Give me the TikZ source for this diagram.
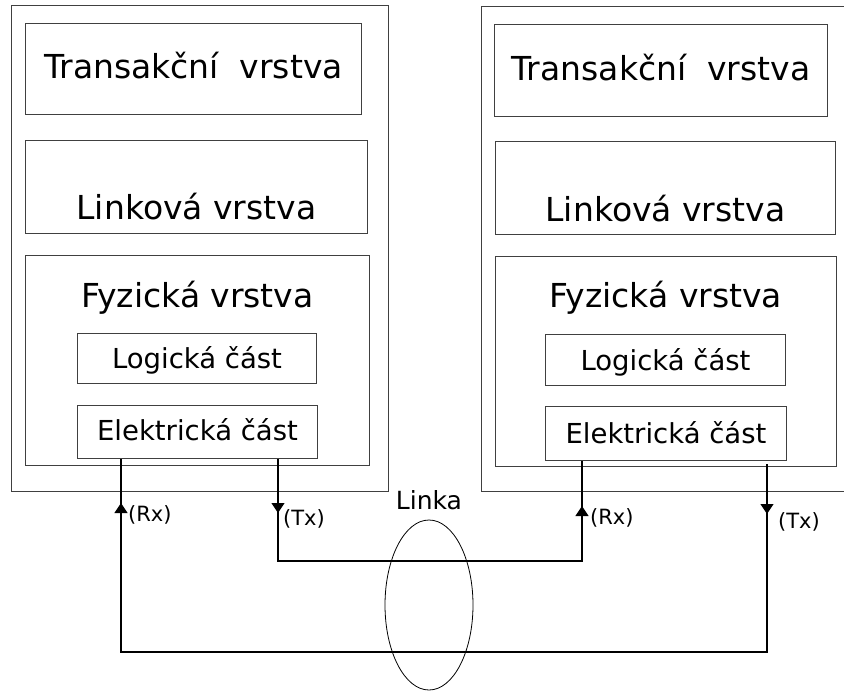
\documentclass[tikz,border=0pt]{standalone}
\usepackage{fontspec}
\setmainfont{DejaVu Sans}
\usetikzlibrary{positioning,arrows.meta,decorations.markings,shapes.geometric}

\begin{document}
\begin{tikzpicture}[
		x=1pt, y=-1pt,
		layer/.style={draw=black!75, line width=1pt, anchor=north west, inner sep=0pt},
		bigtext/.style={font=\fontsize{33}{40}\selectfont, anchor=base, inner sep=0pt},
		smalltext/.style={font=\fontsize{27.5}{33}\selectfont, anchor=base, inner sep=0pt},
		sigtext/.style={font=\fontsize{21}{25}\selectfont, anchor=base west, inner sep=0pt},
		wire/.style={line width=1.2pt},
		fwdtip/.style={postaction={decorate, decoration={markings, mark=at position #1 with {\arrow{Triangle[width=13pt,length=10pt]}}}}},
		backtip/.style={postaction={decorate, decoration={markings, mark=at position #1 with {\arrowreversed{Triangle[width=13pt,length=10pt]}}}}},
	]
		\clip (0,0) rectangle (844,691);

		% left device
		\node [layer, minimum width=377pt, minimum height=486pt] (outerL) at (11,5) {};
		\node [layer, minimum width=336pt, minimum height=91pt] (tranL) at (25,23) {};
		\node [layer, minimum width=342pt, minimum height=93pt] (linkL) at (25,140) {};
		\node [layer, minimum width=344pt, minimum height=210pt] (fyzL) at (25,255) {};
		\node [layer, minimum width=239pt, minimum height=50pt] (logL) at (77,333) {};
		\node [layer, minimum width=240pt, minimum height=53pt] (elekL) at (77,405) {};
		\node [bigtext] (tranLtxt) at ([yshift=37pt]tranL.south) {Transakční\ \ vrstva};
		\node [bigtext] (linkLtxt) at ([yshift=15pt]linkL.south) {Linková vrstva};
		\node [bigtext] (fyzLtxt) at ([yshift=-52pt]fyzL.north) {Fyzická vrstva};
		\node [smalltext] (logLtxt) at ([yshift=16pt]logL.south) {Logická část};
		\node [smalltext] (elekLtxt) at ([yshift=19pt]elekL.south) {Elektrická část};

		% right device
		\node [layer, minimum width=380pt, minimum height=485pt] (outerR) at (481,6) {};
		\node [layer, minimum width=333pt, minimum height=92pt] (tranR) at (494,24) {};
		\node [layer, minimum width=340pt, minimum height=93pt] (linkR) at (495,141) {};
		\node [layer, minimum width=341pt, minimum height=210pt] (fyzR) at (495,256) {};
		\node [layer, minimum width=240pt, minimum height=51pt] (logR) at (545,334) {};
		\node [layer, minimum width=241pt, minimum height=54pt] (elekR) at (545,406) {};
		\node [bigtext] (tranRtxt) at ([yshift=37pt]tranR.south) {Transakční\ \ vrstva};
		\node [bigtext] (linkRtxt) at ([yshift=14pt]linkR.south) {Linková vrstva};
		\node [bigtext] (fyzRtxt) at ([yshift=-51pt]fyzR.north) {Fyzická vrstva};
		\node [smalltext] (logRtxt) at ([yshift=16pt]logR.south) {Logická část};
		\node [smalltext] (elekRtxt) at ([yshift=18pt]elekR.south) {Elektrická část};

		% link between the two
		\coordinate (rxL) at ([xshift=44pt]elekL.south west);
		\coordinate (txL) at ([xshift=201pt]elekL.south west);
		\coordinate (rxR) at ([xshift=37pt]elekR.south west);
		\coordinate (txR) at ([xshift=222pt,yshift=-3pt]elekR.south west);
		\coordinate (midline) at (0,561);
		\coordinate (botline) at (0,652);

		\draw [wire, backtip=44pt, backtip=-50pt] (rxL) -- (rxL |- botline) -| (txR);
		\draw [wire, fwdtip=54pt, fwdtip=-45pt] (txL) -- (txL |- midline) -| (rxR);

		\node [sigtext] (rxLtxt) at ([xshift=7pt,yshift=-62pt]rxL) {(Rx)};
		\node [sigtext] (txLtxt) at ([xshift=5pt,yshift=-66pt]txL) {(Tx)};
		\node [sigtext] (rxRtxt) at ([xshift=8pt,yshift=-63pt]rxR) {(Rx)};
		\node [sigtext] (txRtxt) at ([xshift=11pt,yshift=-64pt]txR) {(Tx)};

		\node [draw, ellipse, line width=0.8pt, minimum width=88pt, minimum height=170pt, inner sep=0pt] (bundle) at (429,605) {};
		\node [font=\fontsize{25}{30}\selectfont, inner sep=0pt, above=10pt of bundle] (linka) {Linka};
	\end{tikzpicture}
\end{document}
